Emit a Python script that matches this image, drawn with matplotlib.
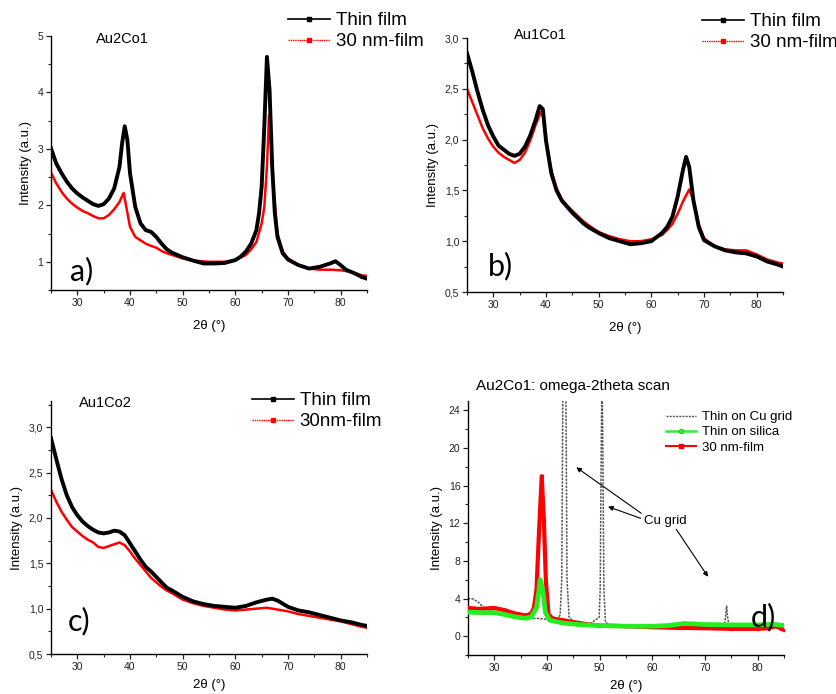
import matplotlib
matplotlib.use("Agg")
import matplotlib.pyplot as plt
from matplotlib.ticker import MultipleLocator, FuncFormatter
from matplotlib.lines import Line2D

plt.rcParams['font.family'] = ['Liberation Sans', 'DejaVu Sans']

# ---------------- data: panel a (Au2Co1) ----------------
a_x_thin = [25, 26, 27, 28, 29, 30, 31, 32, 33, 34, 35, 36, 37, 38, 38.5, 39, 39.5, 40, 41, 42,
            43, 44, 45, 46, 47, 48, 50, 52, 54, 56, 58, 60, 61, 62, 63, 64, 64.5, 65, 65.5, 66,
            66.5, 67, 67.5, 68, 69, 70, 72, 74, 76, 78, 79, 80, 81, 82, 83, 84, 85]
a_y_thin = [3.01, 2.74, 2.57, 2.42, 2.30, 2.21, 2.14, 2.08, 2.02, 1.99, 2.02, 2.12, 2.30, 2.68, 3.10,
            3.40, 3.16, 2.57, 1.97, 1.68, 1.56, 1.53, 1.44, 1.32, 1.22, 1.16, 1.08, 1.02, 0.97,
            0.97, 0.98, 1.03, 1.09, 1.18, 1.32, 1.56, 1.86, 2.33, 3.39, 4.63, 4.04, 2.68, 1.86,
            1.44, 1.15, 1.04, 0.94, 0.88, 0.91, 0.97, 1.01, 0.94, 0.86, 0.82, 0.78, 0.73, 0.70]
a_x_30nm = [25, 26, 27, 28, 29, 30, 31, 32, 33, 34, 35, 36, 37, 38, 38.8, 39.3, 40, 41, 42, 43,
            44, 45, 46, 47, 48, 50, 52, 55, 58, 60, 62, 63, 64, 65, 65.5, 66, 66.4, 66.8, 67.2,
            68, 69, 70, 72, 74, 76, 78, 80, 82, 84, 85]
a_y_30nm = [2.58, 2.39, 2.24, 2.12, 2.03, 1.96, 1.90, 1.86, 1.81, 1.77, 1.77, 1.83, 1.93, 2.06,
            2.22, 1.97, 1.62, 1.44, 1.38, 1.32, 1.28, 1.25, 1.19, 1.15, 1.12, 1.06, 1.02, 1.00,
            1.00, 1.03, 1.12, 1.22, 1.35, 1.68, 1.97, 2.68, 3.60, 3.10, 2.33, 1.50, 1.18, 1.06,
            0.94, 0.88, 0.86, 0.86, 0.85, 0.82, 0.76, 0.75]

# ---------------- data: panel b (Au1Co1) ----------------
b_x_thin = [25, 26, 27, 28, 29, 30, 31, 32, 33, 34, 35, 36, 37, 38, 38.8, 39.4, 40, 41, 42, 43,
            44, 45, 46, 47, 48, 50, 52, 54, 56, 58, 60, 62, 63, 64, 65, 66, 66.6, 67.2, 68, 69,
            70, 72, 74, 76, 78, 80, 82, 84, 85]
b_y_thin = [2.85, 2.67, 2.47, 2.29, 2.14, 2.03, 1.94, 1.90, 1.86, 1.84, 1.86, 1.93, 2.04, 2.19,
            2.33, 2.30, 1.99, 1.67, 1.50, 1.40, 1.34, 1.28, 1.23, 1.18, 1.14, 1.08, 1.03, 1.00,
            0.97, 0.98, 1.00, 1.08, 1.14, 1.24, 1.44, 1.70, 1.83, 1.73, 1.40, 1.14, 1.01, 0.95,
            0.91, 0.89, 0.88, 0.85, 0.80, 0.77, 0.75]
b_x_30nm = [25, 26, 27, 28, 29, 30, 31, 32, 33, 34, 35, 36, 37, 38, 39, 39.5, 40, 41, 42, 43,
            44, 45, 46, 47, 48, 50, 52, 54, 56, 58, 60, 62, 63, 64, 65, 66, 67.2, 68, 69, 70,
            72, 74, 76, 78, 80, 82, 84, 85]
b_y_30nm = [2.50, 2.37, 2.24, 2.11, 2.01, 1.93, 1.87, 1.83, 1.80, 1.77, 1.80, 1.87, 1.99, 2.14,
            2.27, 2.22, 1.99, 1.70, 1.52, 1.41, 1.35, 1.30, 1.25, 1.20, 1.16, 1.09, 1.05, 1.02,
            1.00, 1.00, 1.02, 1.06, 1.11, 1.17, 1.27, 1.39, 1.51, 1.40, 1.17, 1.03, 0.95, 0.92,
            0.91, 0.91, 0.87, 0.82, 0.79, 0.78]

# ---------------- data: panel c (Au1Co2) ----------------
c_x = [25, 26, 27, 28, 29, 30, 31, 32, 33, 34, 35, 36, 37, 38, 39, 40, 41, 42, 43, 44, 45, 46,
       47, 48, 50, 52, 54, 56, 58, 60, 62, 64, 66, 67, 68, 70, 72, 74, 76, 78, 80, 82, 84, 85]
c_y_thin = [2.88, 2.65, 2.43, 2.25, 2.12, 2.03, 1.96, 1.91, 1.87, 1.84, 1.83, 1.84, 1.86, 1.85,
            1.81, 1.72, 1.63, 1.54, 1.46, 1.41, 1.35, 1.29, 1.23, 1.20, 1.13, 1.08, 1.05, 1.03,
            1.02, 1.01, 1.03, 1.07, 1.10, 1.11, 1.09, 1.02, 0.98, 0.96, 0.93, 0.90, 0.87, 0.85,
            0.82, 0.81]
c_y_30nm = [2.31, 2.18, 2.07, 1.98, 1.90, 1.85, 1.80, 1.76, 1.73, 1.68, 1.67, 1.69, 1.71, 1.73,
            1.70, 1.63, 1.55, 1.48, 1.41, 1.34, 1.29, 1.24, 1.20, 1.17, 1.10, 1.06, 1.03, 1.01,
            0.99, 0.98, 0.99, 1.00, 1.01, 1.00, 0.99, 0.97, 0.94, 0.92, 0.90, 0.88, 0.86, 0.83,
            0.80, 0.79]

# ---------------- data: panel d (Au2Co1, omega-2theta) ----------------
d_x_cu = [25, 26, 27, 28, 29, 30, 32, 34, 36, 38, 40, 42, 42.5, 42.8, 43.0, 43.3, 43.6, 43.8,
          44.2, 45, 48, 49.9, 50.1, 50.3, 50.45, 50.6, 50.8, 51.1, 52, 55, 60, 65, 70, 73.6,
          73.9, 74.1, 74.3, 74.6, 76, 80, 83, 84, 85]
d_y_cu = [4.0, 3.95, 3.6, 3.0, 2.8, 2.6, 2.2, 1.95, 1.85, 1.9, 1.8, 1.7, 2.3, 6.0, 25.0, 60.0,
          25.0, 6.0, 2.0, 1.6, 1.25, 2.0, 5.0, 20.0, 28.0, 20.0, 5.0, 1.5, 1.1, 1.05, 1.0, 0.95,
          0.88, 0.9, 2.0, 3.2, 2.0, 0.9, 0.85, 0.85, 0.9, 1.0, 0.6]
d_x_silica = [25, 28, 30, 32, 34, 36, 37, 38, 38.4, 38.7, 39.2, 39.7, 40.5, 43, 46, 50, 55, 60,
              63, 66, 68, 70, 75, 80, 83, 85]
d_y_silica = [2.55, 2.5, 2.5, 2.3, 2.05, 1.9, 2.05, 3.0, 4.6, 6.0, 4.9, 2.5, 1.7, 1.4, 1.24,
              1.13, 1.06, 1.06, 1.13, 1.35, 1.3, 1.24, 1.2, 1.2, 1.27, 1.13]
d_x_30nm = [25, 27, 30, 32, 34, 36, 37, 37.5, 38, 38.5, 39, 39.4, 39.8, 40.3, 41, 43, 45, 48,
            50, 55, 60, 65, 70, 75, 80, 82, 83.5, 84.5, 85]
d_y_30nm = [3.0, 2.9, 3.0, 2.76, 2.4, 2.2, 2.4, 3.0, 4.9, 11.3, 17.0, 12.4, 5.7, 2.3, 1.9, 1.7,
            1.5, 1.24, 1.13, 1.06, 0.95, 0.88, 0.85, 0.78, 0.78, 0.85, 1.06, 0.78, 0.7]

# text
titles = ["Au2Co1", "Au1Co1", "Au1Co2", "Au2Co1: omega-2theta scan"]
letters = ["a)", "b)", "c)", "d)"]
x_label = "2θ (°)"
y_label = "Intensity (a.u.)"
legend_ab = ["Thin film", "30 nm-film"]
legend_c = ["Thin film", "30nm-film"]
legend_d = ["Thin on Cu grid", "Thin on silica", "30 nm-film"]
annot_text = "Cu grid"

W, H = 836, 694
fig = plt.figure(figsize=(W / 100, H / 100), dpi=100)


def rect(left, top, right, bottom):
    return [left / W, 1 - bottom / H, (right - left) / W, (bottom - top) / H]


ax_a = fig.add_axes(rect(51, 36, 367, 290))
ax_b = fig.add_axes(rect(467, 38, 783, 292))
ax_c = fig.add_axes(rect(51, 401, 367, 654))
ax_d = fig.add_axes(rect(468, 401, 784, 655))

comma = FuncFormatter(lambda v, p: f"{v:.1f}".replace(".", ","))
intfmt = FuncFormatter(lambda v, p: f"{v:.0f}")

for ax, lpad in ((ax_a, 9), (ax_b, 9), (ax_c, 5), (ax_d, 5)):
    ax.set_xlim(25, 85)
    ax.xaxis.set_major_locator(MultipleLocator(10))
    ax.xaxis.set_minor_locator(MultipleLocator(5))
    for s in ("top", "right"):
        ax.spines[s].set_visible(False)
    for s in ("left", "bottom"):
        ax.spines[s].set_linewidth(1.0)
    ax.tick_params(which="major", length=3.5, width=0.9, labelsize=7.5, pad=2, colors="#222222")
    ax.tick_params(which="minor", length=2, width=0.8, colors="#222222")
    ax.set_xlabel(x_label, fontsize=9.5, labelpad=lpad)
    ax.set_ylabel(y_label, fontsize=9.5, labelpad=4)

ax_a.set_ylim(0.5, 5)
ax_a.yaxis.set_major_locator(MultipleLocator(1))
ax_a.yaxis.set_minor_locator(MultipleLocator(0.5))
ax_a.yaxis.set_major_formatter(intfmt)

for ax, top in ((ax_b, 3.0), (ax_c, 3.29)):
    ax.set_ylim(0.5, top)
    ax.yaxis.set_major_locator(MultipleLocator(0.5))
    ax.yaxis.set_minor_locator(MultipleLocator(0.25))
    ax.yaxis.set_major_formatter(comma)

ax_d.set_ylim(-2, 25)
ax_d.yaxis.set_major_locator(MultipleLocator(4))
ax_d.yaxis.set_minor_locator(MultipleLocator(2))
ax_d.yaxis.set_major_formatter(intfmt)

black_kw = dict(color="black", lw=2.8, solid_joinstyle="round", zorder=3)
red_kw = dict(color="#ff0000", lw=1.8, solid_joinstyle="round", zorder=2)

ax_a.plot(a_x_thin, a_y_thin, **black_kw)
ax_a.plot(a_x_30nm, a_y_30nm, **red_kw)
ax_b.plot(b_x_thin, b_y_thin, **black_kw)
ax_b.plot(b_x_30nm, b_y_30nm, **red_kw)
ax_c.plot(c_x, c_y_thin, **black_kw)
ax_c.plot(c_x, c_y_30nm, **red_kw)

ax_d.plot(d_x_cu, d_y_cu, color="#555555", lw=1.1, ls=(0, (1.5, 0.8)), zorder=2)
ax_d.plot(d_x_30nm, d_y_30nm, color="#ff0000", lw=3, marker="s", ms=1.8, zorder=3)
ax_d.plot(d_x_silica, d_y_silica, color="#22ee22", lw=3.4, solid_joinstyle="round", zorder=4)

# panel titles
ax_a.text(0.142, 0.988, titles[0], transform=ax_a.transAxes, fontsize=10.5, va="center")
ax_b.text(0.149, 1.012, titles[1], transform=ax_b.transAxes, fontsize=10.5, va="center")
ax_c.text(0.089, 0.992, titles[2], transform=ax_c.transAxes, fontsize=10.5, va="center")
fig.text(476 / W, 1 - 386 / H, titles[3], fontsize=11, va="center", ha="left")

# panel letters
for ax, lab, (fx, fy) in zip((ax_a, ax_b, ax_c, ax_d), letters,
                             ((0.06, 0.039), (0.066, 0.067), (0.054, 0.095), (0.896, 0.114))):
    ax.text(fx, fy, lab, transform=ax.transAxes, fontsize=22, family="Lato",
            va="baseline", ha="left", zorder=6)

# legends
h_thin = Line2D([], [], color="black", lw=1.2, marker="s", ms=2.2)
h_30 = Line2D([], [], color="#ff0000", lw=1.0, ls=(0, (1, 0.6)), marker="s", ms=2.2)
leg_kw = dict(frameon=False, fontsize=13.5, handlelength=2.25, handletextpad=0.3,
              labelspacing=0.22, borderpad=0, borderaxespad=0, loc="upper left",
              bbox_transform=fig.transFigure)
fig.legend([h_thin, h_30], legend_ab, bbox_to_anchor=(288 / W, 1 - 12 / H), **leg_kw)
fig.legend([h_thin, h_30], legend_ab, bbox_to_anchor=(702 / W, 1 - 13 / H), **leg_kw)
fig.legend([h_thin, h_30], legend_c, bbox_to_anchor=(252 / W, 1 - 392 / H), **leg_kw)

h_cu = Line2D([], [], color="#555555", lw=1.0, ls=(0, (1.5, 0.8)))
h_si = Line2D([], [], color="#33ee33", lw=1.8, marker="o", ms=3, mfc="none", mec="#22cc22")
h_d30 = Line2D([], [], color="#ff0000", lw=1.5, marker="s", ms=2.5)
fig.legend([h_cu, h_si, h_d30], legend_d, frameon=False, fontsize=9.5, handlelength=2.3,
           handletextpad=0.4, labelspacing=0.22, borderpad=0, borderaxespad=0,
           loc="upper left", bbox_to_anchor=(666 / W, 1 - 411 / H),
           bbox_transform=fig.transFigure)

# Cu grid annotation
ax_d.text(62.4, 12.2, annot_text, fontsize=9.5, ha="center", va="center", zorder=6)
arrows = [((57.9, 13.06), (45.56, 17.95)),
          ((57.79, 12.53), (51.58, 13.77)),
          ((64.55, 11.36), (70.57, 6.32))]
for tail, head in arrows:
    ax_d.annotate("", xy=head, xytext=tail,
                  arrowprops=dict(arrowstyle="-|>", color="black", lw=0.8,
                                  mutation_scale=7, shrinkA=0, shrinkB=0))

fig.savefig("out.png", dpi=100)
